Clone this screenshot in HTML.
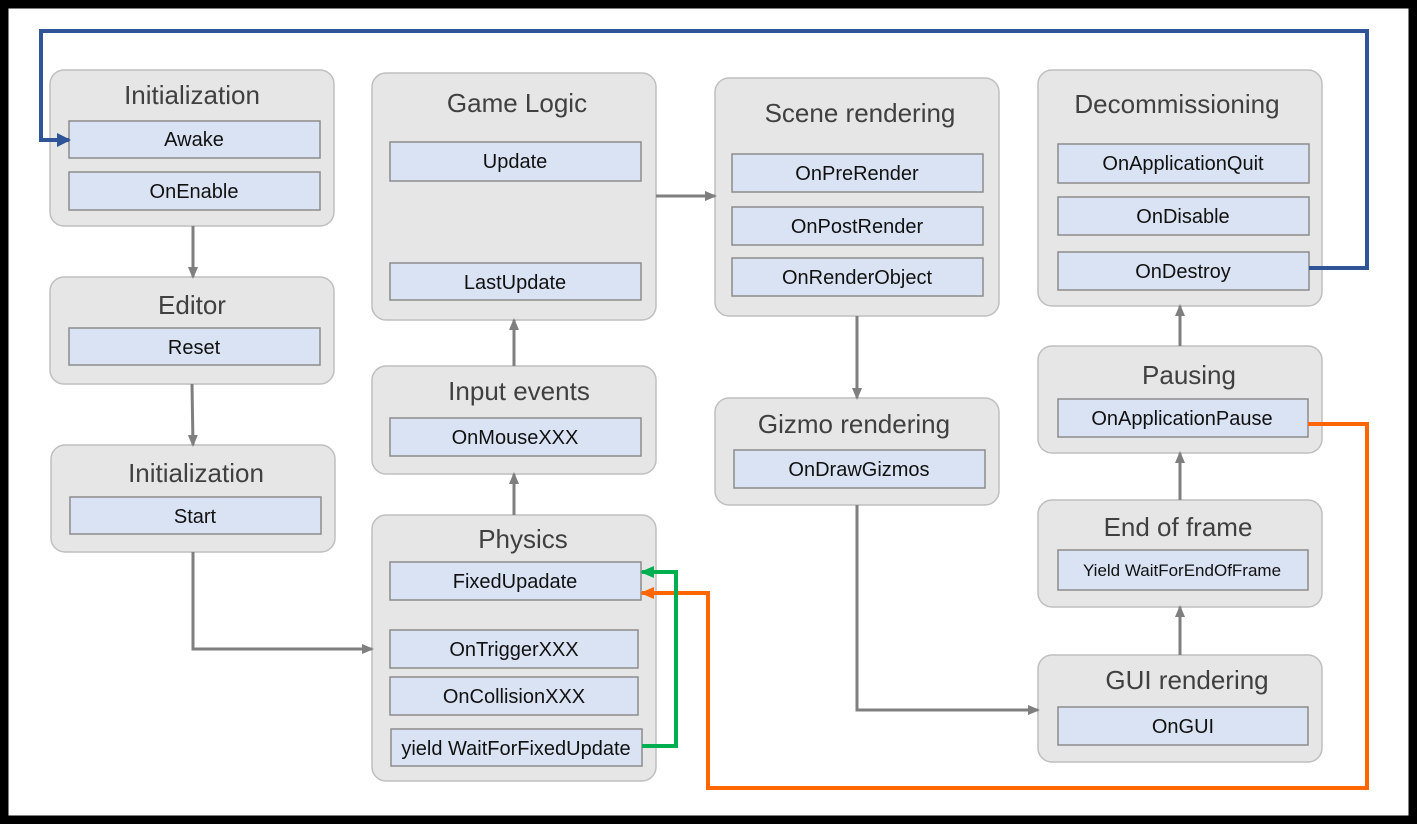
<!DOCTYPE html>
<html><head><meta charset="utf-8"><style>
html,body{margin:0;padding:0;background:#fff}
svg{display:block}
text{font-family:"Liberation Sans","Noto Sans CJK KR",sans-serif}
.c{fill:#e6e6e6;stroke:#bfbfbf;stroke-width:1.5}
.b{fill:#dae3f3;stroke:#8c8c8c;stroke-width:1.5}
.t{font-size:26px;fill:#404040;text-anchor:middle}
.l{font-size:20px;fill:#111;text-anchor:middle}
.g{stroke:#7f7f7f;stroke-width:3;fill:none}
</style></head><body>
<svg width="1417" height="824" viewBox="0 0 1417 824" xmlns="http://www.w3.org/2000/svg">
<defs>
<marker id="ag" markerWidth="12" markerHeight="12" refX="10" refY="6" orient="auto" markerUnits="userSpaceOnUse"><path d="M0,1 L12,6 L0,11 z" fill="#7f7f7f"/></marker>
<marker id="ab" markerWidth="14" markerHeight="14" refX="12" refY="7" orient="auto" markerUnits="userSpaceOnUse"><path d="M0,0 L14,7 L0,14 z" fill="#2f5597"/></marker>
<marker id="ao" markerWidth="14" markerHeight="12" refX="12" refY="6" orient="auto" markerUnits="userSpaceOnUse"><path d="M0,0 L14,6 L0,12 z" fill="#ff6600"/></marker>
<marker id="an" markerWidth="14" markerHeight="12" refX="12" refY="6" orient="auto" markerUnits="userSpaceOnUse"><path d="M0,0 L14,6 L0,12 z" fill="#00b050"/></marker>
</defs>
<rect x="4" y="4" width="1409" height="816" fill="#fff" stroke="#000" stroke-width="9"/>

<rect class="c" x="50" y="70" width="284" height="156" rx="14"/>
<text class="t" x="192" y="104">Initialization</text>
<rect class="b" x="69" y="121" width="251" height="37"/><text class="l" x="194" y="146">Awake</text>
<rect class="b" x="69" y="172" width="251" height="38"/><text class="l" x="194" y="198">OnEnable</text>

<rect class="c" x="50" y="277" width="284" height="107" rx="14"/>
<text class="t" x="192" y="314">Editor</text>
<rect class="b" x="69" y="328" width="251" height="37"/><text class="l" x="194" y="354">Reset</text>

<rect class="c" x="51" y="445" width="284" height="107" rx="14"/>
<text class="t" x="196" y="482">Initialization</text>
<rect class="b" x="70" y="497" width="251" height="37"/><text class="l" x="195" y="523">Start</text>

<rect class="c" x="372" y="73" width="284" height="247" rx="14"/>
<text class="t" x="517" y="112">Game Logic</text>
<rect class="b" x="390" y="142" width="251" height="39"/><text class="l" x="515" y="168">Update</text>
<rect class="b" x="390" y="263" width="251" height="37"/><text class="l" x="515" y="289">LastUpdate</text>

<rect class="c" x="372" y="366" width="284" height="108" rx="14"/>
<text class="t" x="519" y="400">Input events</text>
<rect class="b" x="390" y="418" width="251" height="38"/><text class="l" x="515" y="444">OnMouseXXX</text>

<rect class="c" x="372" y="515" width="284" height="266" rx="14"/>
<text class="t" x="523" y="548">Physics</text>
<rect class="b" x="390" y="562" width="251" height="38"/><text class="l" x="515" y="588">FixedUpadate</text>
<rect class="b" x="390" y="630" width="248" height="38"/><text class="l" x="514" y="656">OnTriggerXXX</text>
<rect class="b" x="390" y="677" width="248" height="38"/><text class="l" x="514" y="703">OnCollisionXXX</text>
<rect class="b" x="391" y="729" width="251" height="37" stroke="#666"/><text class="l" x="516" y="755">yield WaitForFixedUpdate</text>

<rect class="c" x="715" y="78" width="284" height="238" rx="14"/>
<text class="t" x="860" y="122">Scene rendering</text>
<rect class="b" x="732" y="154" width="251" height="38"/><text class="l" x="857" y="180">OnPreRender</text>
<rect class="b" x="732" y="207" width="251" height="38"/><text class="l" x="857" y="233">OnPostRender</text>
<rect class="b" x="732" y="258" width="251" height="38"/><text class="l" x="857" y="284">OnRenderObject</text>

<rect class="c" x="715" y="398" width="284" height="107" rx="14"/>
<text class="t" x="854" y="433">Gizmo rendering</text>
<rect class="b" x="734" y="450" width="251" height="38"/><text class="l" x="859" y="476">OnDrawGizmos</text>

<rect class="c" x="1038" y="70" width="284" height="236" rx="14"/>
<text class="t" x="1177" y="113">Decommissioning</text>
<rect class="b" x="1058" y="144" width="251" height="39"/><text class="l" x="1183" y="170">OnApplicationQuit</text>
<rect class="b" x="1058" y="197" width="251" height="38"/><text class="l" x="1183" y="223">OnDisable</text>
<rect class="b" x="1058" y="252" width="251" height="38"/><text class="l" x="1183" y="278">OnDestroy</text>

<rect class="c" x="1038" y="346" width="284" height="107" rx="14"/>
<text class="t" x="1189" y="384">Pausing</text>
<rect class="b" x="1058" y="399" width="250" height="38"/><text class="l" x="1182" y="425">OnApplicationPause</text>

<rect class="c" x="1038" y="500" width="284" height="107" rx="14"/>
<text class="t" x="1178" y="536">End of frame</text>
<rect class="b" x="1058" y="550" width="250" height="40"/><text class="l" x="1182" y="576" style="font-size:17px">Yield WaitForEndOfFrame</text>

<rect class="c" x="1038" y="655" width="284" height="107" rx="14"/>
<text class="t" x="1187" y="689">GUI rendering</text>
<rect class="b" x="1058" y="707" width="250" height="38"/><text class="l" x="1183" y="733">OnGUI</text>

<path class="g" d="M193,226 V277" marker-end="url(#ag)"/>
<path class="g" d="M192,384 L193,445" marker-end="url(#ag)"/>
<path class="g" d="M193,552 V649 H372" marker-end="url(#ag)"/>
<path class="g" d="M514,515 V474" marker-end="url(#ag)"/>
<path class="g" d="M514,366 V320" marker-end="url(#ag)"/>
<path class="g" d="M656,196 H715" marker-end="url(#ag)"/>
<path class="g" d="M857,316 V398" marker-end="url(#ag)"/>
<path class="g" d="M857,505 V710 H1038" marker-end="url(#ag)"/>
<path class="g" d="M1180,655 V607" marker-end="url(#ag)"/>
<path class="g" d="M1180,500 V453" marker-end="url(#ag)"/>
<path class="g" d="M1180,346 V306" marker-end="url(#ag)"/>

<path d="M1309,268 H1367 V31 H41 V140 H69" fill="none" stroke="#2f5597" stroke-width="4" marker-end="url(#ab)"/>
<path d="M1308,424 H1367 V788 H708 V593 H642" fill="none" stroke="#ff6600" stroke-width="4" marker-end="url(#ao)"/>
<path d="M642,746 H676 V572 H642" fill="none" stroke="#00b050" stroke-width="4" marker-end="url(#an)"/>
</svg>
</body></html>
